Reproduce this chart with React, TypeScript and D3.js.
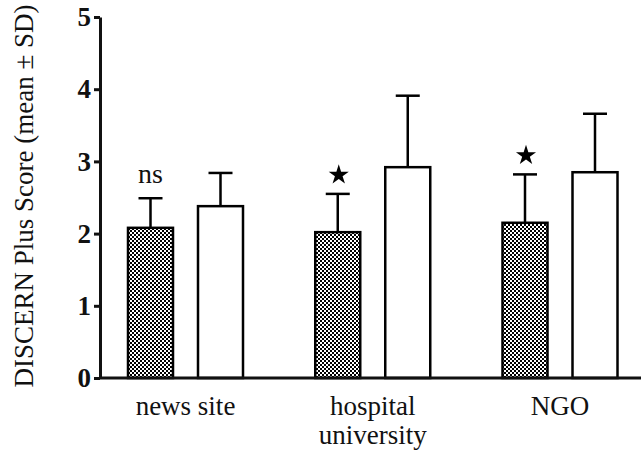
import React, { useRef, useEffect } from "react";
import * as d3 from "d3";

// sources (x categories), label lines
const groups = ["news site", "hospital university", "NGO"];
const groupLines = [["news site"], ["hospital", "university"], ["NGO"]];
const series = ["patterned", "open"];

// mean and SD
const meanPatterned = [2.08, 2.02, 2.15];
const sdPatterned = [0.41, 0.53, 0.67];
const meanOpen = [2.38, 2.92, 2.85];
const sdOpen = [0.46, 0.99, 0.81];
const marks = ["ns", "star", "star"];

const yTicks = [0, 1, 2, 3, 4, 5];

const W = 641;
const H = 453;
const FONT = "'Liberation Serif', 'Times New Roman', serif";

export default function App() {
  const axisRef = useRef<SVGGElement>(null);

  const y = d3.scaleLinear().domain([0, 5]).range([378, 17]);
  const x = d3.scalePoint<string>().domain(groups).range([185.5, 560]);
  const xs = d3
    .scaleBand<string>()
    .domain(series)
    .range([-57.5, 57.5])
    .paddingInner(25 / 70)
    .paddingOuter(0);

  useEffect(() => {
    if (!axisRef.current) return;
    const g = d3.select(axisRef.current);
    g.selectAll("*").remove();
    g.call(
      d3.axisLeft(y).tickValues(yTicks).tickSize(6).tickSizeOuter(0).tickPadding(3).tickFormat(d3.format("d"))
    );
    g.select(".domain").attr("stroke", "#111").attr("stroke-width", 3);
    g.selectAll(".tick line").attr("stroke", "#111").attr("stroke-width", 3);
    g.selectAll(".tick text")
      .attr("font-family", FONT)
      .attr("font-size", 27)
      .attr("font-weight", "bold")
      .attr("fill", "#111");
  }, []);

  const bars: { g: string; s: string; m: number; sd: number; i: number }[] = [];
  groups.forEach((g, i) => {
    bars.push({ g, s: "patterned", m: meanPatterned[i], sd: sdPatterned[i], i });
    bars.push({ g, s: "open", m: meanOpen[i], sd: sdOpen[i], i });
  });

  const bw = xs.bandwidth();
  const star = d3.symbol().type(d3.symbolStar).size(125)();

  return (
    <svg width={W} height={H} style={{ position: "absolute", left: 0, top: 0, background: "#fff" }}>
      <defs>
        <pattern id="checker" width="4" height="4" patternUnits="userSpaceOnUse">
          <rect width="4" height="4" fill="#fff" />
          <rect width="2" height="2" fill="#000" />
          <rect x="2" y="2" width="2" height="2" fill="#000" />
        </pattern>
      </defs>

      {bars.map((b, k) => {
        const cx = (x(b.g) as number) + (xs(b.s) as number) + bw / 2;
        const left = cx - bw / 2;
        const top = y(b.m);
        const errTop = y(b.m + b.sd);
        return (
          <g key={k}>
            <line x1={cx} x2={cx} y1={top} y2={errTop} stroke="#000" strokeWidth={2.5} />
            <line x1={cx - 12} x2={cx + 12} y1={errTop} y2={errTop} stroke="#000" strokeWidth={2.5} />
            <rect
              x={left}
              y={top}
              width={bw}
              height={y(0) - top}
              fill={b.s === "patterned" ? "url(#checker)" : "#fff"}
              stroke="#000"
              strokeWidth={2.5}
            />
            {b.s === "patterned" && marks[b.i] === "ns" && (
              <text x={cx} y={errTop - 15} textAnchor="middle" fontFamily={FONT} fontSize={28} fill="#111">
                ns
              </text>
            )}
            {b.s === "patterned" && marks[b.i] === "star" && (
              <path d={star as string} transform={`translate(${cx + 1},${errTop - 19})`} fill="#000" />
            )}
          </g>
        );
      })}

      {/* x axis */}
      <line x1={99} x2={641} y1={y(0)} y2={y(0)} stroke="#111" strokeWidth={3} />
      <g ref={axisRef} transform="translate(100,0)" />

      {groups.map((g, i) => (
        <text key={g} textAnchor="middle" fontFamily={FONT} fontSize={27} fill="#111">
          {groupLines[i].map((line, j) => (
            <tspan key={j} x={x(g)} y={415 + j * 29}>
              {line}
            </tspan>
          ))}
        </text>
      ))}

      <text
        transform={`translate(33,${(10 + 382) / 2}) rotate(-90)`}
        textAnchor="middle"
        fontFamily={FONT}
        fontSize={27}
        fill="#111"
      >
        DISCERN Plus Score (mean ± SD)
      </text>
    </svg>
  );
}
